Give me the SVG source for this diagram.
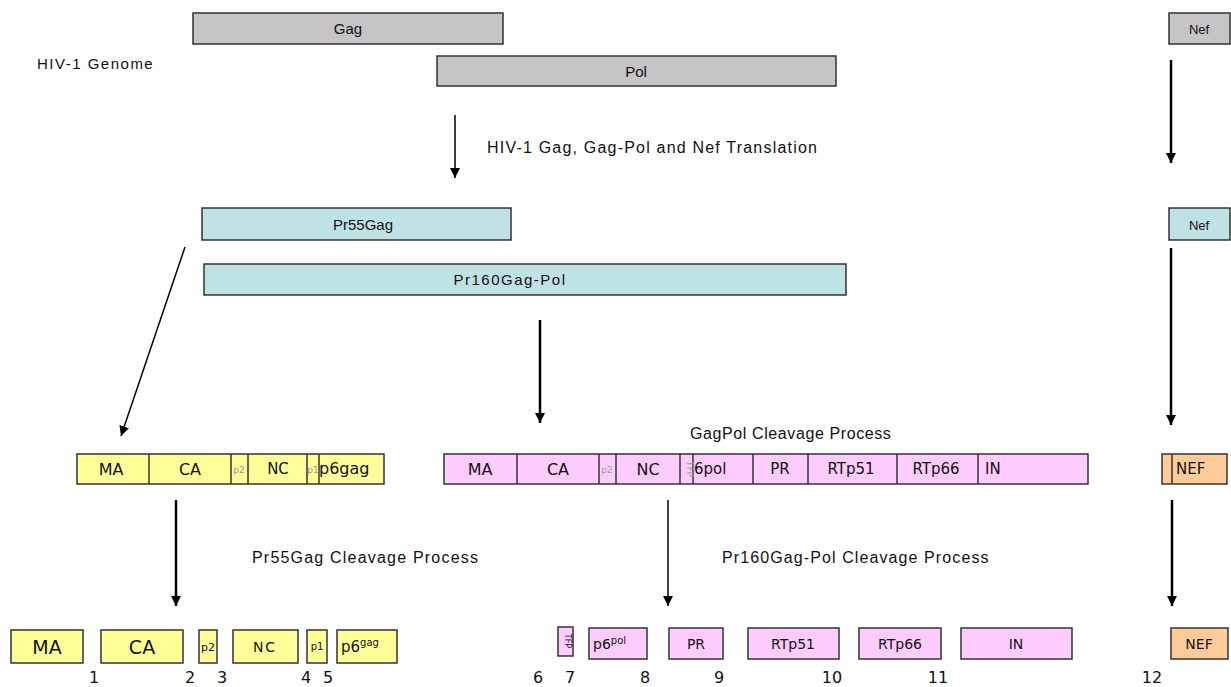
<svg xmlns="http://www.w3.org/2000/svg" width="1231" height="687" viewBox="0 0 1231 687">
<defs>
<marker id="ah" viewBox="0 0 10 10" refX="10" refY="5" markerWidth="10" markerHeight="11" markerUnits="userSpaceOnUse" orient="auto">
<path d="M0,0 L10,5 L0,10 z" fill="#000"/>
</marker>
</defs>
<style>
rect{stroke:#333;stroke-width:1.5}
.g{fill:#c6c4c6}
.c{fill:#bfe3e5}
.y{fill:#ffff99}
.p{fill:#ffccff}
.o{fill:#ffcc99}
.dv{stroke:#333;stroke-width:1.5}
text{font-family:"Liberation Sans",Arial,sans-serif;fill:#111}
.lb{font-size:14px;text-anchor:middle}
.cap{font-size:16px}
.s{font-family:"DejaVu Sans",Verdana,sans-serif;text-anchor:middle;font-size:16px}
.sm{font-family:"DejaVu Sans",Verdana,sans-serif;text-anchor:middle;font-size:15px}
.st{font-family:"DejaVu Sans",Verdana,sans-serif;font-size:15px}
.t{font-family:"DejaVu Sans",sans-serif;text-anchor:middle;font-size:9px;fill:#999}
.n{font-family:"DejaVu Sans",sans-serif;text-anchor:middle;font-size:16px}
.ln{stroke:#000;fill:none}
</style>
<rect width="1231" height="687" fill="#fff" style="stroke:none"/>
<text x="37" y="69" style="font-size:15px;letter-spacing:1.5px">HIV-1 Genome</text>
<g id="gag"><rect class="g" x="193" y="13" width="310" height="31"/><text class="lb" x="348" y="34" style="font-size:15px">Gag</text></g>
<g id="pol"><rect class="g" x="437" y="56" width="399" height="30"/><text class="lb" x="636" y="77" style="font-size:15px">Pol</text></g>
<g id="nef-g"><rect class="g" x="1169" y="13" width="61" height="31"/><text class="lb" x="1199" y="34" style="font-size:13px">Nef</text></g>
<text class="cap" x="487" y="153" style="letter-spacing:1.2px">HIV-1 Gag, Gag-Pol and Nef Translation</text>
<g id="pr55"><rect class="c" x="202" y="208" width="309" height="32"/><text class="lb" x="363" y="230" style="font-size:15px">Pr55Gag</text></g>
<g id="pr160"><rect class="c" x="204" y="264" width="642" height="31"/><text class="lb" x="510" y="285" style="font-size:15px;letter-spacing:1.5px">Pr160Gag-Pol</text></g>
<g id="nef-c"><rect class="c" x="1169" y="208" width="61" height="32"/><text class="lb" x="1199" y="230" style="font-size:13px">Nef</text></g>
<text class="cap" x="690" y="439" style="letter-spacing:0.6px">GagPol Cleavage Process</text>
<g id="gagbar">
<rect class="y" x="77" y="454" width="307" height="30"/>
<line class="dv" x1="149" y1="454" x2="149" y2="484"/>
<line class="dv" x1="231" y1="454" x2="231" y2="484"/>
<line class="dv" x1="248" y1="454" x2="248" y2="484"/>
<line class="dv" x1="307" y1="454" x2="307" y2="484"/>
<line class="dv" x1="319" y1="454" x2="319" y2="484"/>
<text class="s" x="111" y="475">MA</text>
<text class="s" x="190" y="475">CA</text>
<text class="t" x="239" y="473">p2</text>
<text class="sm" x="278" y="474">NC</text>
<text class="t" x="313" y="473">p1</text>
<text class="st" x="319" y="474" style="font-size:16px">p6gag</text>
</g>
<g id="gagpolbar">
<rect class="p" x="444" y="454" width="644" height="30"/>
<line class="dv" x1="517" y1="454" x2="517" y2="484"/>
<line class="dv" x1="599" y1="454" x2="599" y2="484"/>
<line class="dv" x1="616" y1="454" x2="616" y2="484"/>
<line class="dv" x1="680" y1="454" x2="680" y2="484"/>
<line class="dv" x1="693" y1="454" x2="693" y2="484"/>
<line class="dv" x1="753" y1="454" x2="753" y2="484"/>
<line class="dv" x1="808" y1="454" x2="808" y2="484"/>
<line class="dv" x1="897" y1="454" x2="897" y2="484"/>
<line class="dv" x1="978" y1="454" x2="978" y2="484"/>
<text class="s" x="480" y="475">MA</text>
<text class="s" x="558" y="475">CA</text>
<text class="t" x="607" y="473">p2</text>
<text class="s" x="648" y="475">NC</text>
<text class="t" x="687" y="469" transform="rotate(90 687 469)">TFP</text>
<text class="st" x="694" y="474">6pol</text>
<text class="sm" x="780" y="474">PR</text>
<text class="sm" x="851" y="474">RTp51</text>
<text class="sm" x="936" y="474">RTp66</text>
<text class="st" x="985" y="474">IN</text>
</g>
<g id="nefbar">
<rect class="o" x="1162" y="454" width="65" height="30"/>
<line class="dv" x1="1172" y1="454" x2="1172" y2="484"/>
<text class="st" x="1176" y="474">NEF</text>
</g>
<text class="cap" x="252" y="563" style="letter-spacing:1.2px">Pr55Gag Cleavage Process</text>
<text class="cap" x="722" y="563" style="letter-spacing:1.1px">Pr160Gag-Pol Cleavage Process</text>
<g id="ma"><rect class="y" x="11" y="630" width="72" height="33"/><text class="s" x="47" y="654" style="font-size:19px">MA</text></g>
<g id="ca"><rect class="y" x="101" y="630" width="82" height="33"/><text class="s" x="142" y="654" style="font-size:19px">CA</text></g>
<g id="p2"><rect class="y" x="199" y="630" width="18" height="33"/><text class="s" x="208" y="651" style="font-size:11px">p2</text></g>
<g id="nc"><rect class="y" x="233" y="630" width="65" height="33"/><text class="s" x="265" y="652" style="font-size:14px;letter-spacing:2px">NC</text></g>
<g id="p1"><rect class="y" x="307" y="630" width="20" height="33"/><text class="s" x="317" y="650" style="font-size:10px">p1</text></g>
<g id="p6gag"><rect class="y" x="337" y="630" width="60" height="33"/><text class="st" x="341" y="652" style="font-size:15px">p6<tspan dy="-6" style="font-size:10px">gag</tspan></text></g>
<g id="tfp"><rect class="p" x="558" y="627" width="15" height="29"/><text class="s" x="565" y="641" style="font-size:8px" transform="rotate(90 565 641)">TFP</text></g>
<g id="p6pol"><rect class="p" x="589" y="628" width="58" height="31"/><text class="st" x="593" y="649" style="font-size:14px">p6<tspan dy="-5" style="font-size:10px">pol</tspan></text></g>
<g id="pr"><rect class="p" x="669" y="628" width="54" height="31"/><text class="s" x="696" y="649" style="font-size:14px">PR</text></g>
<g id="rt51"><rect class="p" x="748" y="628" width="91" height="31"/><text class="s" x="793" y="649" style="font-size:14px">RTp51</text></g>
<g id="rt66"><rect class="p" x="859" y="628" width="82" height="31"/><text class="s" x="900" y="649" style="font-size:14px">RTp66</text></g>
<g id="in"><rect class="p" x="961" y="628" width="111" height="31"/><text class="s" x="1016" y="649" style="font-size:14px">IN</text></g>
<g id="nef"><rect class="o" x="1171" y="628" width="57" height="31"/><text class="s" x="1199" y="649" style="font-size:14px">NEF</text></g>
<g id="numbers">
<text class="n" x="94" y="683">1</text>
<text class="n" x="190" y="683">2</text>
<text class="n" x="222" y="683">3</text>
<text class="n" x="306" y="683">4</text>
<text class="n" x="328" y="683">5</text>
<text class="n" x="538" y="683">6</text>
<text class="n" x="570" y="683">7</text>
<text class="n" x="645" y="683">8</text>
<text class="n" x="719" y="683">9</text>
<text class="n" x="832" y="683">10</text>
<text class="n" x="938" y="683">11</text>
<text class="n" x="1152" y="683">12</text>
</g>
<g id="connectors">
<line class="ln" x1="455" y1="115" x2="455" y2="178" stroke-width="1.5" marker-end="url(#ah)"/>
<line class="ln" x1="1171" y1="60" x2="1171" y2="163" stroke-width="2.5" marker-end="url(#ah)"/>
<line class="ln" x1="185" y1="247" x2="121" y2="436" stroke-width="1.5" marker-end="url(#ah)"/>
<line class="ln" x1="540" y1="320" x2="540" y2="423" stroke-width="2.5" marker-end="url(#ah)"/>
<line class="ln" x1="1171" y1="248" x2="1171" y2="425" stroke-width="2.5" marker-end="url(#ah)"/>
<line class="ln" x1="176" y1="500" x2="176" y2="606" stroke-width="2.5" marker-end="url(#ah)"/>
<line class="ln" x1="668" y1="500" x2="668" y2="606" stroke-width="1.5" marker-end="url(#ah)"/>
<line class="ln" x1="1172" y1="500" x2="1172" y2="606" stroke-width="2.5" marker-end="url(#ah)"/>
</g>
</svg>
